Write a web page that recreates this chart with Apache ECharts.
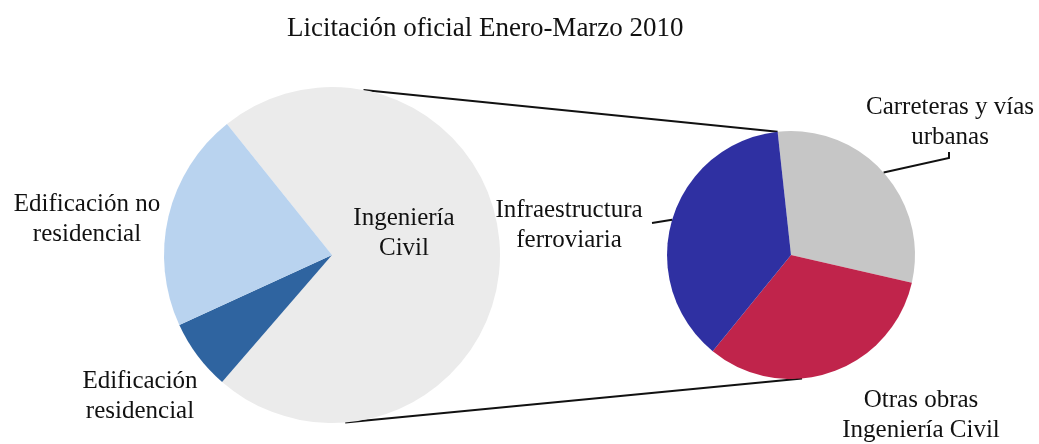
<!DOCTYPE html>
<html>
<head>
<meta charset="utf-8">
<script src="https://cdn.jsdelivr.net/npm/echarts@6/dist/echarts.min.js"></script>
<style>
  html, body { margin: 0; padding: 0; background: #fff; }
  #chart { width: 1039px; height: 444px; }
</style>
</head>
<body>
<div id="chart"></div>
<script>
// datos (% del total)
const mainNames = ['Ingeniería\nCivil', 'Edificación\nresidencial', 'Edificación no\nresidencial']
const mainValues = [72.1, 6.8, 21.1]
const subNames = ['Carreteras y vías\nurbanas', 'Otras obras\nIngeniería Civil', 'Infraestructura\nferroviaria']
const subValues = [30.3, 32.3, 37.4]

const mainColors = ['#ebebeb', '#2f64a0', '#b9d3ef']
const subColors = ['#c6c6c6', '#c0244b', '#2f30a2']

// geometria
const C1 = [332, 255], R1 = 168, START1 = 128.7
const C2 = [791, 255], R2 = 124, START2 = 96.2

// posiciones de etiquetas (centro)
const mainLabelPos = [[404, 233], [140, 396], [87, 219]]
const subLabelPos = [[950, 122], [921, 415], [569, 225]]

// punto sobre el circulo, angulo en grados en sentido horario desde arriba
function onCircle(c, r, cw) {
  const a = cw * Math.PI / 180
  return [c[0] + r * Math.sin(a), c[1] - r * Math.cos(a)]
}
function sliceStart(values, start, i) {
  const total = values.reduce((a, b) => a + b, 0)
  let acc = 90 - start
  for (let k = 0; k < i; k++) acc += values[k] / total * 360
  return acc
}
// angulo medio de un sector
function midAngle(values, start, i) {
  const total = values.reduce((a, b) => a + b, 0)
  return sliceStart(values, start, i) + values[i] / total * 180
}

const font = { fontFamily: 'Liberation Serif', fontSize: 25, color: '#111', lineHeight: 30 }

const topA = onCircle(C1, R1, 10.8)
const topB = onCircle(C2, R2, sliceStart(subValues, START2, 0))
const botA = onCircle(C1, R1, 175.5)
const botB = onCircle(C2, R2, 174.9)
const leadCarr = onCircle(C2, R2, midAngle(subValues, START2, 0))
const leadInfra = onCircle(C2, R2, midAngle(subValues, START2, 2))

const lineStyle = { stroke: '#111', lineWidth: 2 }

const chart = echarts.init(document.getElementById('chart'))
chart.setOption({
  animation: false,
  backgroundColor: '#fff',
  title: {
    text: 'Licitación oficial Enero-Marzo 2010',
    left: 282,
    top: 10,
    textStyle: { fontFamily: 'Liberation Serif', fontSize: 27, fontWeight: 'normal', color: '#111' }
  },
  graphic: [
    { type: 'line', shape: { x1: topA[0], y1: topA[1], x2: topB[0], y2: topB[1] }, style: lineStyle, z: 1 },
    { type: 'line', shape: { x1: botA[0], y1: botA[1], x2: botB[0], y2: botB[1] }, style: lineStyle, z: 1 },
    { type: 'polyline', shape: { points: [leadCarr, [949, 158], [949, 152]] }, style: lineStyle, z: 10 },
    { type: 'line', shape: { x1: leadInfra[0], y1: leadInfra[1], x2: 652, y2: 223 }, style: lineStyle, z: 10 }
  ],
  series: [
    {
      type: 'pie',
      center: C1,
      radius: R1,
      startAngle: START1,
      clockwise: true,
      avoidLabelOverlap: false,
      z: 3,
      itemStyle: { borderWidth: 0 },
      label: Object.assign({ show: true, position: 'outside', formatter: '{b}', align: 'center' }, font),
      labelLine: { show: false },
      labelLayout: p => ({ x: mainLabelPos[p.dataIndex][0], y: mainLabelPos[p.dataIndex][1], align: 'center', verticalAlign: 'middle' }),
      emphasis: { disabled: true },
      data: mainNames.map((n, i) => ({ name: n, value: mainValues[i], itemStyle: { color: mainColors[i] } }))
    },
    {
      type: 'pie',
      center: C2,
      radius: R2,
      startAngle: START2,
      clockwise: true,
      avoidLabelOverlap: false,
      z: 3,
      itemStyle: { borderWidth: 0 },
      label: Object.assign({ show: true, position: 'outside', formatter: '{b}', align: 'center' }, font),
      labelLine: { show: false },
      labelLayout: p => ({ x: subLabelPos[p.dataIndex][0], y: subLabelPos[p.dataIndex][1], align: 'center', verticalAlign: 'middle' }),
      emphasis: { disabled: true },
      data: subNames.map((n, i) => ({ name: n, value: subValues[i], itemStyle: { color: subColors[i] } }))
    }
  ]
})
</script>
</body>
</html>
